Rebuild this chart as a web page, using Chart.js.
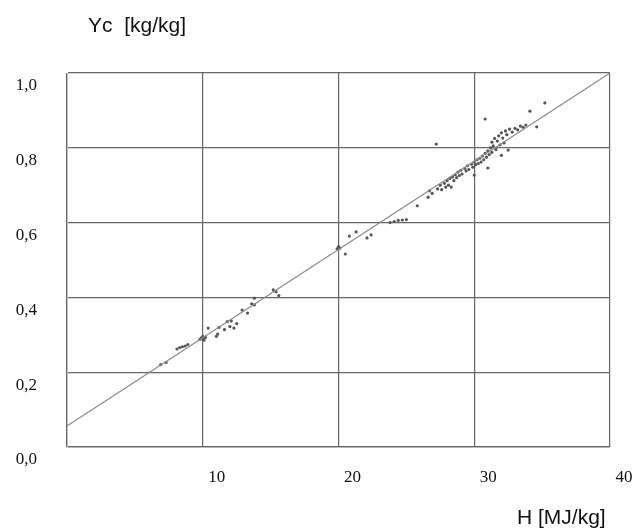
<!DOCTYPE html>
<html>
<head>
<meta charset="utf-8">
<script src="https://cdn.jsdelivr.net/npm/chart.js@4.4.1/dist/chart.umd.min.js"></script>
<style>
  body { margin: 0; background: #fff; }
  #wrap { width: 644px; height: 528px; position: relative; }
</style>
</head>
<body>
<div id="wrap"><canvas id="chart"></canvas></div>
<script>
// measured points, H [MJ/kg] vs Yc [kg/kg]
const hValues = [
  6.9, 7.3,
  8.1, 8.3, 8.5, 8.7, 8.9,
  9.8, 9.9, 10.0, 10.0, 10.1, 10.2,
  10.4, 11.0, 11.1, 11.2, 11.6, 11.8, 12.0, 12.1, 12.3, 12.5,
  12.9, 13.3, 13.6, 13.8, 13.8,
  15.2, 15.4, 15.6,
  19.9, 20.0, 20.1, 20.5, 20.8, 21.3, 22.1, 22.4,
  23.8, 24.1, 24.4, 24.7, 25.0,
  25.8, 26.6, 26.7, 26.9,
  27.2, 27.3, 27.5, 27.6, 27.8, 27.9, 28.0, 28.1, 28.2, 28.3,
  28.4, 28.5, 28.6, 28.7, 28.8, 28.9, 29.0, 29.1, 29.3, 29.4,
  29.5, 29.6, 29.8, 29.9, 30.0, 30.0, 30.1, 30.2, 30.3, 30.4,
  30.5, 30.6, 30.7, 30.8, 30.8, 30.9, 31.0, 31.0, 31.1, 31.2,
  31.3, 31.3, 31.4, 31.5, 31.6, 31.7, 31.8, 31.9, 32.0, 32.0,
  32.1, 32.2, 32.3, 32.4, 32.5, 32.6, 32.8, 33.0, 33.2, 33.4,
  33.6, 33.8, 34.1, 34.6, 35.2
];
const ycValues = [
  0.220, 0.226,
  0.262, 0.266, 0.268, 0.270, 0.274,
  0.288, 0.292, 0.290, 0.296, 0.286, 0.293,
  0.318, 0.296, 0.302, 0.320, 0.314, 0.335, 0.322, 0.337, 0.318, 0.330,
  0.366, 0.358, 0.383, 0.380, 0.398,
  0.420, 0.415, 0.405,
  0.530, 0.536, 0.532, 0.516, 0.564, 0.575, 0.559, 0.567,
  0.600, 0.603, 0.606, 0.607, 0.608,
  0.645, 0.668, 0.685, 0.678,
  0.810, 0.690, 0.700, 0.688, 0.705, 0.695, 0.712, 0.700, 0.718, 0.695,
  0.722, 0.712, 0.728, 0.720, 0.735, 0.726, 0.740, 0.730, 0.745, 0.738,
  0.752, 0.742, 0.756, 0.748, 0.727, 0.762, 0.755, 0.768, 0.758, 0.772,
  0.762, 0.778, 0.768, 0.785, 0.877, 0.775, 0.746, 0.792, 0.782, 0.800,
  0.788, 0.815, 0.805, 0.825, 0.795, 0.818, 0.832, 0.808, 0.780, 0.840,
  0.826, 0.813, 0.845, 0.835, 0.794, 0.850, 0.842, 0.852, 0.848, 0.858,
  0.855, 0.861, 0.898, 0.856, 0.920
];

// regression line end points
const lineH = [0, 40];
const lineYc = [0.056, 1.0];

const xTickLabels = ["", "10", "20", "30", "40"];
const yTickLabels = ["0,0", "0,2", "0,4", "0,6", "0,8", "1,0"];
const xTitle = "H [MJ/kg]";
const yTitle = "Yc  [kg/kg]";

const points = hValues.map((h, i) => ({ x: h, y: ycValues[i] }));
const linePts = lineH.map((h, i) => ({ x: h, y: lineYc[i] }));

const titlesPlugin = {
  id: "titles",
  afterDraw(chart) {
    const ctx = chart.ctx;
    ctx.save();
    ctx.fillStyle = "#111";
    ctx.font = '21px "Liberation Sans", Arial, sans-serif';
    ctx.textAlign = "left";
    ctx.textBaseline = "alphabetic";
    ctx.fillText(yTitle, 88, 32);
    ctx.fillText(xTitle, 517, 524);
    ctx.restore();
  }
};

const serif = { family: '"Liberation Serif", "Times New Roman", serif', size: 17 };

new Chart(document.getElementById("chart"), {
  type: "scatter",
  data: {
    datasets: [
      {
        type: "line",
        data: linePts,
        borderColor: "#8c8c8c",
        borderWidth: 1.2,
        pointRadius: 0,
        fill: false
      },
      {
        data: points,
        pointRadius: 1.6,
        pointBackgroundColor: "#555",
        pointBorderWidth: 0
      }
    ]
  },
  options: {
    responsive: true,
    maintainAspectRatio: false,
    animation: false,
    layout: { padding: { left: 0, top: 73, right: 34, bottom: 0 } },
    plugins: { legend: { display: false }, tooltip: { enabled: false } },
    scales: {
      x: {
        type: "linear",
        min: 0,
        max: 40,
        afterFit: s => { s.height = 81; },
        ticks: {
          stepSize: 10,
          padding: 20,
          labelOffset: 14,
          color: "#111",
          font: serif,
          maxRotation: 0,
          callback: (v, i) => xTickLabels[i]
        },
        grid: { color: "#666", lineWidth: 1.2, drawTicks: false },
        border: { color: "#666", width: 1.2 }
      },
      y: {
        min: 0,
        max: 1,
        afterFit: s => { s.width = 67; },
        ticks: {
          stepSize: 0.2,
          padding: 30,
          labelOffset: 13,
          color: "#111",
          font: serif,
          callback: (v, i) => yTickLabels[i]
        },
        grid: { color: "#666", lineWidth: 1.2, drawTicks: false },
        border: { color: "#c4c4c4", width: 1 }
      }
    }
  },
  plugins: [titlesPlugin]
});
</script>
</body>
</html>
